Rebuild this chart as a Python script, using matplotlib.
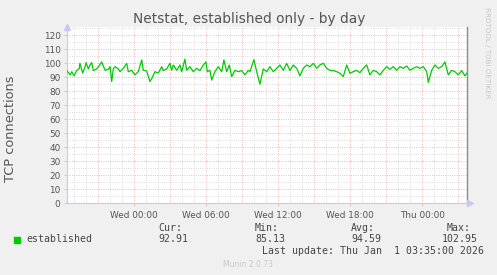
import matplotlib
matplotlib.use("Agg")
import matplotlib.pyplot as plt
from matplotlib.ticker import FixedLocator

# ---- data (minutes relative to Wed 00:00, TCP connections) ----
minutes = [-338, -321, -313, -301, -288, -275, -272, -258, -246, -241, -230, -222, -213, -205,
           -188, -172, -163, -146, -130, -121, -113, -105, -96, -80, -71, -55, -38, -30, -13,
           3, 20, 37, 45, 62, 78, 87, 103, 120, 137, 145, 162, 178, 187, 195, 212, 228, 237,
           253, 262, 278, 295, 312, 328, 345, 358, 365, 378, 387, 403, 420, 437, 448, 462, 475,
           487, 503, 520, 537, 553, 570,
           578, 598, 612, 628, 645, 662, 678, 695, 712, 728, 745, 762, 778, 795, 812, 828, 845,
           862, 878, 895, 912, 928, 945, 962, 978, 995, 1012, 1028, 1045, 1062, 1078, 1095,
           1112, 1128, 1145, 1162, 1178, 1195, 1212, 1228, 1245, 1262, 1278, 1295, 1312, 1328,
           1345, 1362, 1378, 1395, 1412, 1428, 1445, 1462, 1470, 1487, 1503, 1520, 1537, 1553,
           1570, 1587, 1603, 1620, 1637, 1653, 1662]
established = [94.8, 91.7, 94.0, 91.0, 94.8, 96.4, 100.0, 93.0, 97.6, 100.5, 96.0, 98.8, 100.5, 94.8,
               96.0, 99.0, 101.0, 95.0, 95.7, 97.6, 87.0, 96.0, 97.6, 96.0, 94.0, 96.4, 100.0, 94.0, 95.0,
               91.7, 94.0, 102.4, 95.0, 94.5, 87.0, 89.0, 94.0, 93.0, 97.6, 94.8, 96.0, 100.0, 95.0, 98.8,
               95.0, 98.8, 94.0, 102.95, 95.0, 97.6, 94.0, 96.4, 94.8, 98.8, 101.0, 94.0, 95.0, 88.0, 94.0,
               97.6, 94.0, 102.4, 94.0, 98.8, 90.5, 95.0, 94.0, 94.8, 91.7, 95.0,
               94.0, 102.6, 94.0, 85.13, 96.0, 94.0, 97.6, 94.0, 96.4, 98.8, 95.0, 100.0, 94.8, 98.8,
               96.4, 91.0, 96.4, 98.8, 97.6, 100.0, 96.4, 98.8, 100.0, 96.4, 95.0, 94.8, 94.0, 92.9,
               90.5, 98.8, 92.9, 94.0, 95.0, 93.3, 96.4, 98.8, 91.7, 95.0, 94.0, 91.7, 95.0, 97.6,
               95.7, 97.6, 95.0, 97.6, 96.4, 98.1, 95.0, 96.4, 97.6, 96.4, 97.6, 94.0, 86.4, 95.0,
               98.8, 96.4, 97.6, 101.0, 91.7, 95.0, 94.0, 91.7, 94.8, 91.0, 92.91]

xtick_pos = [0, 360, 720, 1080, 1440]
xtick_labels = ["Wed 00:00", "Wed 06:00", "Wed 12:00", "Wed 18:00", "Thu 00:00"]
yticks = [0, 10, 20, 30, 40, 50, 60, 70, 80, 90, 100, 110, 120]

legend_name = "established"
stat_labels = ["Cur:", "Min:", "Avg:", "Max:"]
stat_values = ["92.91", "85.13", "94.59", "102.95"]
title = "Netstat, established only - by day"
ylabel = "TCP connections"
last_update = "Last update: Thu Jan  1 03:35:00 2026"
footer = "Munin 2.0.73"
side_text = "RRDTOOL / TOBI OETIKER"

# ---- figure ----
W, H = 497, 275
fig = plt.figure(figsize=(W / 100, H / 100), dpi=100, facecolor="#F0F0F0")
x0, x1, ytop, ybot = 66.7, 466.7, 27.0, 203.3
ax = fig.add_axes([x0 / W, 1 - ybot / H, (x1 - x0) / W, (ybot - ytop) / H])
ax.set_facecolor("white")

ax.set_xlim(-338, 1662)
ax.set_ylim(0, (ybot - ytop) / 1.4)

major_col = "#E6A6A6"
minor_col = "#D0D0D0"
dots = (0, (1, 1.7))
glw = 0.6
for m in range(-300, 1662, 60):
    if m % 180 == 0:
        continue
    ax.axvline(m, color=minor_col, lw=glw, ls=dots, zorder=1)
for v in range(5, 126, 10):
    ax.axhline(v, color=minor_col, lw=glw, ls=dots, zorder=1)
for m in range(-180, 1662, 180):
    ax.axvline(m, color=major_col, lw=glw, ls=dots, zorder=2)
for v in yticks[1:]:
    ax.axhline(v, color=major_col, lw=glw, ls=dots, zorder=2)

ax.plot(minutes, established, color="#00CC00", lw=0.9, zorder=3)

ax.spines["top"].set_visible(False)
ax.spines["left"].set_color("#C8C8F0")
ax.spines["bottom"].set_color("#C8C8F0")
ax.spines["left"].set_linewidth(0.8)
ax.spines["bottom"].set_linewidth(0.8)
ax.spines["right"].set_color("#8C8C8C")
ax.spines["right"].set_linewidth(1.0)

ax.xaxis.set_major_locator(FixedLocator(xtick_pos))
ax.set_xticklabels(xtick_labels)
ax.yaxis.set_major_locator(FixedLocator(yticks))
ax.set_yticklabels([str(v) for v in yticks])
ax.tick_params(axis="both", labelsize=6.4, colors="#555555", length=2, width=0.5, pad=2.5)
ax.tick_params(axis="x", color="#E6A6A6", pad=3.5)
ax.tick_params(axis="y", color="#BBBBBB")

# axis arrows
ax.plot([0], [1.0], marker="^", ms=4, color="#C8C8F0", transform=ax.transAxes, clip_on=False, zorder=5)
ax.plot([1.008], [0], marker=">", ms=4, color="#C8C8F0", transform=ax.transAxes, clip_on=False, zorder=5)

def fx(px):
    return px / W

def fy(py):
    return 1 - py / H

fig.text(fx(249), fy(19.5), title, ha="center", va="center", fontsize=9.9, color="#555555")
fig.text(fx(11), fy(129), ylabel, ha="center", va="center", rotation=90, fontsize=9.3, color="#555555")
fig.text(fx(487), fy(53), side_text, ha="center", va="center", rotation=-90, fontsize=5.1, color="#C8C8C8")

mono = "DejaVu Sans Mono"
fig.patches.append(plt.Rectangle((fx(14), fy(242.7)), 6 / W, 6 / H, transform=fig.transFigure,
                                 color="#00CC00", figure=fig))
fig.text(fx(26), fy(239.5), legend_name, ha="left", va="center", fontsize=7.1, family=mono, color="#444444")
lab_x = [158, 255, 351, 446.7]
val_x = [158, 255, 351, 441.7]
for lx, vx, lab, val in zip(lab_x, val_x, stat_labels, stat_values):
    fig.text(fx(lx), fy(228), lab, ha="left", va="center", fontsize=7.1, family=mono, color="#444444")
    fig.text(fx(vx), fy(239.5), val, ha="left", va="center", fontsize=7.1, family=mono, color="#444444")
fig.text(fx(261.7), fy(251), last_update, ha="left", va="center", fontsize=7.1, family=mono, color="#444444")
fig.text(fx(248), fy(264.5), footer, ha="center", va="center", fontsize=5.5, color="#C8C8C8")

fig.savefig("out.png", dpi=100, facecolor=fig.get_facecolor())
